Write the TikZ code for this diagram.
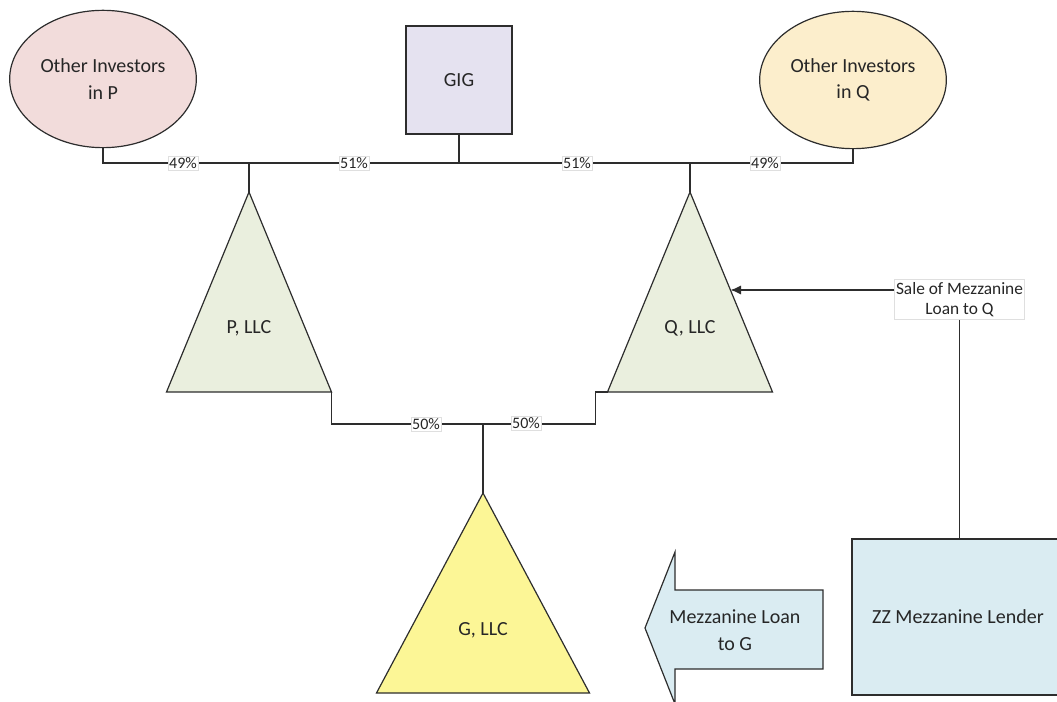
\documentclass[tikz,border=0pt]{standalone}
\usepackage{fontspec}
\setmainfont{Carlito}
\usetikzlibrary{shapes.geometric, arrows.meta, positioning, calc}
\definecolor{invpink}{RGB}{242,220,219}
\definecolor{invbeige}{RGB}{252,238,204}
\definecolor{giglav}{RGB}{229,226,240}
\definecolor{llcgreen}{RGB}{234,239,222}
\definecolor{llcyellow}{RGB}{252,246,150}
\definecolor{lendblue}{RGB}{218,236,242}
\definecolor{linegray}{RGB}{45,45,45}
\tikzset{
  % Investor ellipses (parameterized by color)
  investor/.style={
    ellipse, draw=linegray, fill=#1, line width=0.9pt,
    minimum width=140pt, minimum height=103pt, inner sep=0pt, outer sep=0pt,
    align=center, font=\fontsize{15}{20}\selectfont, text=black!85
  },
  % Entity triangles (parameterized by color)
  entity/.style={
    isosceles triangle, isosceles triangle stretches, shape border rotate=90,
    draw=linegray, fill=#1, line width=0.9pt, inner sep=0pt, outer sep=0pt,
    anchor=apex
  },
  entlabel/.style={font=\fontsize{15}{18}\selectfont, text=black!85},
  sqbox/.style={
    rectangle, draw=linegray, fill=#1, line width=0.9pt, inner sep=0pt, outer sep=0pt,
    align=center, font=\fontsize{15}{18}\selectfont, text=black!85
  },
  pct/.style={
    rectangle, fill=white, draw=gray!25, line width=0.4pt, inner sep=1pt,
    font=\fontsize{12}{12}\selectfont, text=black!85
  },
  link/.style={draw=linegray, line width=1.1pt},
  saleline/.style={-{Latex[length=8pt, width=7pt]}, draw=linegray, line width=1.1pt}
}

\begin{document}
\begin{tikzpicture}[x=0.75pt, y=-0.75pt]
  \useasboundingbox (0,0) rectangle (1057,702);

  % Top level owners
  \node[investor=invpink] (invp) at (103,79) {Other Investors\\in P};
  \node[investor=invbeige] (invq) at (853,80) {Other Investors\\in Q};
  \node[sqbox=giglav, minimum width=79.5pt, minimum height=81pt] (gig) at (459,80) {GIG};

  % Holding companies
  \node[entity=llcgreen, minimum width=123.75pt, minimum height=150pt] (pllc) at (249,192) {};
  \node[entity=llcgreen, minimum width=123.75pt, minimum height=150pt] (qllc) at (690,192) {};
  \node[entity=llcyellow, minimum width=159.75pt, minimum height=150pt] (gllc) at (483,493) {};
  \node[entlabel] (plab) at ($(pllc.apex)!0.68!(pllc.lower side)$) {P, LLC};
  \node[entlabel] (qlab) at ($(qllc.apex)!0.68!(qllc.lower side)$) {Q, LLC};
  \node[entlabel] (glab) at ($(gllc.apex)!0.685!(gllc.lower side)$) {G, LLC};

  % Lender side
  \node[sqbox=lendblue, minimum width=159pt, minimum height=117pt] (zz) at (958,617) {ZZ Mezzanine Lender};
  \node[rectangle, fill=white, draw=gray!25, line width=0.4pt, inner sep=1pt, align=center,
    font=\fontsize{13}{14.5}\selectfont, text=black!85, minimum width=95pt, minimum height=30pt]
    (sale) at (959.5,299.5) {Sale of Mezzanine\\Loan to Q};

  % Ownership lines
  \coordinate (bus) at (0,163);
  \coordinate (gbus) at (0,424);
  \draw[link] (invp.south) |- (bus -| invq.south) -- (invq.south);
  \draw[link] (gig.south) -- (gig.south |- bus);
  \draw[link] (pllc.apex) -- (pllc.apex |- bus);
  \draw[link] (qllc.apex) -- (qllc.apex |- bus);
  \draw[link] (pllc.right corner) |- (gbus -| gllc.apex) -- (gllc.apex);
  \draw[link] (qllc.left corner) -- ++(-12,0) |- (gbus -| gllc.apex);

  \node[pct] (p49) at (183,163) {49\%};
  \node[pct] (p51) at (354,163) {51\%};
  \node[pct] (q51) at (577,163) {51\%};
  \node[pct] (q49) at (765,163) {49\%};
  \node[pct] (g50a) at (426,424) {50\%};
  \node[pct] (g50b) at (526,423) {50\%};

  % Loan sale
  \coordinate (qhit) at ($(qllc.apex)!0.49!(qllc.right corner)$);
  \draw[saleline] (qhit -| sale.west) -- (qhit);
  \draw[link] (sale.south) -- (sale.south |- zz.north);

  % Mezzanine loan arrow
  \draw[draw=linegray, fill=lendblue, line width=0.9pt]
    (823,590) -- (675,590) -- (675,552) -- (645,628) -- (675,704) -- (675,669) -- (823,669) -- cycle;
  \node[align=center, font=\fontsize{15}{20}\selectfont, text=black!85] (mezzg) at (735,630) {Mezzanine Loan\\to G};
\end{tikzpicture}
\end{document}
